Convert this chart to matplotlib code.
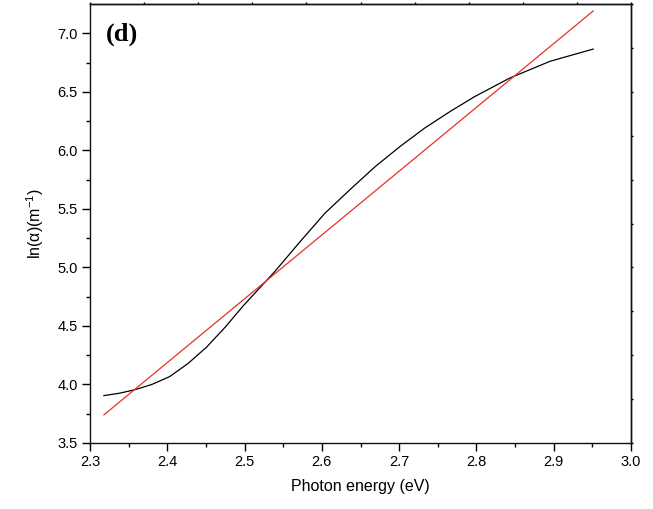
import matplotlib
matplotlib.use("Agg")
import matplotlib.pyplot as plt
import numpy as np

# Data
energy = [2.318, 2.338, 2.358, 2.380, 2.403, 2.427, 2.451, 2.475, 2.498, 2.539,
          2.572, 2.604, 2.636, 2.669, 2.701, 2.733, 2.766, 2.798, 2.843, 2.895, 2.951]
ln_alpha = [3.905, 3.925, 3.955, 4.000, 4.067, 4.180, 4.320, 4.490, 4.670, 4.964,
            5.221, 5.463, 5.662, 5.861, 6.032, 6.190, 6.332, 6.460, 6.617, 6.760, 6.865]
fit_x = [2.318, 2.951]
fit_y = [3.74, 7.19]

xticks = [2.3, 2.4, 2.5, 2.6, 2.7, 2.8, 2.9, 3.0]
yticks = [3.5, 4.0, 4.5, 5.0, 5.5, 6.0, 6.5, 7.0]

plt.rcParams['font.family'] = ['Liberation Sans', 'DejaVu Sans']
plt.rcParams['mathtext.fontset'] = 'custom'
plt.rcParams['mathtext.rm'] = 'Liberation Sans'
plt.rcParams['mathtext.it'] = 'Liberation Sans:italic'

fig = plt.figure(figsize=(6.53, 5.09), dpi=100)
ax = fig.add_axes([90/653, 66/509, 541/653, 439/509])

ax.plot(energy, ln_alpha, color='black', lw=0.9)
ax.plot(fit_x, fit_y, color='#e8302a', lw=0.9)

ax.set_xlim(2.3, 3.0)
ax.set_ylim(3.5, 7.25)
ax.set_xticks(xticks)
ax.set_xticklabels([f"{v:.1f}" for v in xticks])
ax.set_yticks(yticks)
ax.set_yticklabels([f"{v:.1f}" for v in yticks])
ax.set_xticks(np.arange(2.35, 3.0, 0.1), minor=True)
ax.set_yticks(np.arange(3.75, 7.25, 0.5), minor=True)

ax.tick_params(which='major', direction='out', length=6, width=1.0,
               labelsize=10.5, top=False, right=False, pad=3)
ax.tick_params(which='minor', direction='out', length=3, width=1.0,
               top=False, right=False)
for s in ax.spines.values():
    s.set_linewidth(1.0)
    s.set_color('#111111')

# tiny ticks on top and right
sec_x = ax.secondary_xaxis('top')
sec_x.set_xticks([2.3 + 0.07 * k for k in range(11)])
sec_x.tick_params(direction='out', length=1.5, width=1.0, labeltop=False)
sec_x.spines['top'].set_linewidth(1.0)
sec_y = ax.secondary_yaxis('right')
sec_y.set_yticks([3.5 + 0.375 * k for k in range(11)])
sec_y.tick_params(direction='out', length=1.5, width=1.0, labelright=False)
sec_y.spines['right'].set_linewidth(1.0)

ax.set_xlabel("Photon energy (eV)", fontsize=11.5, labelpad=7)
ax.set_ylabel("ln(α)(m$^{\\mathrm{-1}}$)", fontsize=11.5, labelpad=8)

ax.text(0.03, 0.958, "(d)", transform=ax.transAxes, ha='left', va='top',
        fontsize=19, fontweight='bold', family='Liberation Serif')

fig.savefig("out.png", dpi=100)
